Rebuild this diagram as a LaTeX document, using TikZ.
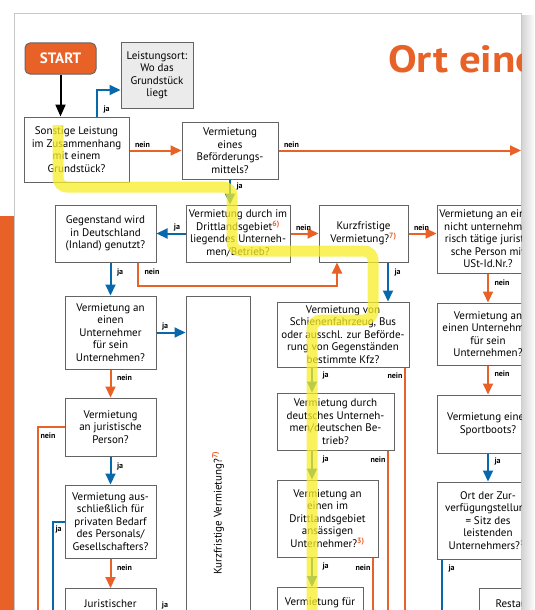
\documentclass[tikz,border=0pt]{standalone}
\usepackage{fontspec}
\setmainfont{PT Sans}
\usetikzlibrary{arrows.meta}
\definecolor{orj}{RGB}{232,98,40}
\definecolor{blu}{RGB}{8,104,172}
\definecolor{rahmen}{RGB}{100,100,100}
\definecolor{hell}{RGB}{235,235,235}
\definecolor{gelbt}{RGB}{248,238,40}
\newcommand{\anm}[1]{\textsuperscript{\textcolor{orj}{\bfseries #1}}}

\begin{document}
\begin{tikzpicture}[x=1pt,y=-1pt,
  box/.style={draw=rahmen,line width=1pt,fill=white,align=center,inner sep=1pt,font=\fontsize{11}{12.5}\selectfont},
  lbl/.style={font=\bfseries\fontsize{8}{9}\selectfont,inner sep=1.5pt},
  jaarr/.style={draw=blu,line width=2pt,-{Triangle[length=11pt,width=10pt]}},
  neinarr/.style={draw=orj,line width=2pt,-{Triangle[length=11pt,width=10pt]}},
  jalin/.style={draw=blu,line width=2pt},
  neinlin/.style={draw=orj,line width=2pt},
  rl/.style={lbl,right,xshift=4pt},
  ar/.style={lbl,above right,xshift=3pt}]
\useasboundingbox (0,0) rectangle (535,610);
\fill[orj] (0,216) rectangle (14,610);
\shade[left color=black!18,right color=white] (521,16) rectangle (535,610);
\fill[white] (14,13) rectangle (521,610);
\draw[black!22] (14,640) -- (14,13) -- (521,13) -- (521,640);
\begin{scope}
\clip (14,13) rectangle (521,610);
\node[anchor=base west,text=orj,font=\bfseries\fontsize{38}{40}\selectfont,inner sep=0] (titel) at (388,72) {\scalebox{1.13}[1]{Ort einer}};
\node[box,fill=orj,rounded corners=5pt,minimum width=71pt,minimum height=31pt,text=white,font=\bfseries\fontsize{15}{16}\selectfont] (start) at (60.5,58.5) {START};
\node[box,fill=hell,minimum width=72pt,minimum height=65pt] (ort) at (157,75.5) {Leistungsort:\\Wo das\\Grundstück\\liegt};
\node[box,minimum width=105pt,minimum height=65pt] (sonst) at (76.5,149.5) {Sonstige Leistung\\im Zusammenhang\\mit einem\\Grundstück?};
\node[box,minimum width=96pt,minimum height=57pt] (befoerd) at (230,150.5) {Vermietung\\eines\\Beförderungs-\\mittels?};
\node[box,minimum width=101pt,minimum height=57pt] (gegen) at (105.5,233.5) {Gegenstand wird\\in Deutschland\\(Inland) genutzt?};
\node[box,minimum width=104pt,minimum height=57pt] (dritt) at (238,233.5) {Vermietung durch im\\Drittlandsgebiet\anm{6)}\\liegendes Unterneh-\\men/Betrieb?};
\node[box,minimum width=89pt,minimum height=57pt] (kurz) at (363.5,233.5) {Kurzfristige\\Vermietung?\anm{7)}};
\node[box,minimum width=102pt,minimum height=68pt] (jurper) at (488,239) {Vermietung an einen\\nicht unternehme-\\risch tätige juristi-\\sche Person mit\\USt-Id.Nr.?};
\node[box,minimum width=102pt,minimum height=62pt] (untr) at (488,334) {Vermietung an\\einen Unternehmer\\für sein\\Unternehmen?};
\node[box,minimum width=102pt,minimum height=58pt] (sport) at (488,424) {Vermietung eines\\Sportboots?};
\node[box,minimum width=102pt,minimum height=77pt] (zurverf) at (488,520.5) {Ort der Zur-\\verfügungstellung\\= Sitz des\\leistenden\\Unternehmers?\anm{1)}};
\node[box,anchor=north,minimum width=101pt,inner ysep=11pt] (resta) at (529.5,588) {Restaurations-};
\node[box,minimum width=91pt,minimum height=73pt] (untl) at (110.5,332.5) {Vermietung an\\einen\\Unternehmer\\für sein\\Unternehmen?};
\node[box,minimum width=64pt,minimum height=434pt] (kurzv) at (218,513) {\rotatebox{90}{Kurzfristige Vermietung?\anm{7)}}};
\node[box,minimum width=91pt,minimum height=58pt] (jur) at (110.5,427) {Vermietung\\an juristische\\Person?};
\node[box,minimum width=91pt,minimum height=73pt] (priv) at (110.5,521.5) {Vermietung aus-\\schließlich für\\privaten Bedarf\\des Personals/\\Gesellschafters?};
\node[box,anchor=north,minimum width=91pt,inner ysep=11pt] (jurist) at (110.5,588) {Juristischer};
\node[box,minimum width=132pt,minimum height=65pt] (schiene) at (343,334.5) {Vermietung von\\Schienenfahrzeug, Bus\\oder ausschl. zur Beförde-\\rung von Gegenständen\\bestimmte Kfz?};
\node[box,minimum width=117pt,minimum height=57pt] (deutsch) at (335.5,421.5) {Vermietung durch\\deutsches Unterneh-\\men/deutschen Be-\\trieb?};
\node[box,minimum width=101pt,minimum height=77pt] (ansaess) at (327.5,518.5) {Vermietung an\\einen im\\Drittlandsgebiet\\ansässigen\\Unternehmer?\anm{3)}};
\node[box,anchor=north,minimum width=86pt,inner ysep=10pt] (vfuer) at (320,587) {Vermietung für};
\coordinate (rand) at (521,150.5);
\coordinate (e1) at (38,625);
\coordinate (e2) at (53,625);
\coordinate (e3) at (405,625);
\coordinate (e4) at (388,625);
\coordinate (e5) at (373,625);
\coordinate (e6) at (442,625);
\coordinate (mid) at (312,0);
\draw[line width=2pt,-{Triangle[length=12pt,width=10pt]}] (start) -- (start |- sonst.north);
\draw[jaarr] ([xshift=20.5pt]sonst.north) |- node[rl,pos=0.13]{ja} ([yshift=-14.5pt]ort.west);
\draw[neinarr] (sonst.east |- befoerd.west) -- node[ar,at start]{nein} (befoerd.west);
\draw[neinarr] (befoerd.east) -- node[ar,at start]{nein} (rand);
\draw[jaarr] (befoerd.south) -- node[rl,pos=0.27]{ja} (befoerd.south |- dritt.north);
\draw[jaarr] (dritt.west) -- node[lbl,above left,at start,xshift=-3pt]{ja} (gegen.east);
\draw[neinarr] (dritt.east) -- node[ar,at start]{nein} (kurz.west);
\draw[neinarr] (kurz.east) -- node[ar,at start]{nein} (kurz.east -| jurper.west);
\draw[jaarr] (gegen.south -| untl.north) -- node[rl,pos=0.3]{ja} (untl.north);
\draw[neinarr] ([xshift=32.5pt]gegen.south) -- node[rl,pos=0.4]{nein} ++(0,23) -| ([xshift=-26.5pt]kurz.south);
\draw[jaarr] (untl.east) -- node[ar,at start]{ja} (untl.east -| kurzv.west);
\draw[neinarr] (untl.south) -- node[rl,pos=0.3]{nein} (jur.north);
\draw[jaarr] (jur.south) -- node[rl,pos=0.35]{ja} (priv.north);
\draw[neinarr] (priv.south) -- node[rl,pos=0.3]{nein} (jurist.north);
\draw[neinlin] (jur.west) -| node[lbl,below right,pos=0.5,yshift=-3pt]{nein} (e1);
\draw[jalin] (priv.west) -| node[lbl,below right,pos=0.5,yshift=-2pt]{ja} (e2);
\draw[jaarr] (kurz.south -| e4) -- node[rl,pos=0.25]{ja} (schiene.north -| e4);
\draw[jaarr] (schiene.south -| mid) -- node[rl,pos=0.3,xshift=4pt]{ja} (deutsch.north -| mid);
\draw[neinlin] (schiene.south -| e3) -- node[lbl,left,at start,yshift=-8pt]{nein} (e3);
\draw[jaarr] (deutsch.south -| mid) -- node[rl,pos=0.3,xshift=4pt]{ja} (ansaess.north -| mid);
\draw[neinlin] (deutsch.south -| e4) -- node[lbl,left,at start,yshift=-9pt]{nein} (e4);
\draw[jaarr] (ansaess.south -| mid) -- node[rl,pos=0.3,xshift=4pt]{ja} (vfuer.north -| mid);
\draw[neinlin] (ansaess.south -| e5) -- node[lbl,left,at start,yshift=-10pt]{nein} (e5);
\draw[neinarr] (jurper.south) -- node[rl,pos=0.33]{nein} (untr.north);
\draw[neinarr] (untr.south) -- node[rl,pos=0.27]{nein} (sport.north);
\draw[jaarr] (sport.south) -- node[rl,pos=0.3]{ja} (zurverf.north);
\draw[jalin] (zurverf.south -| e6) -- node[lbl,right,at start,xshift=4pt,yshift=-9pt]{ja} (e6);
\node[lbl] (jurja) at (165,605) {ja};
\draw[gelbt,line width=11pt,opacity=0.75,rounded corners=9pt] (58,125) -- (58,187) -- (232,187) -- (232,251) -- (373,251) -- (373,320) -- (312,320) -- (312,620);
\end{scope}
\end{tikzpicture}
\end{document}
